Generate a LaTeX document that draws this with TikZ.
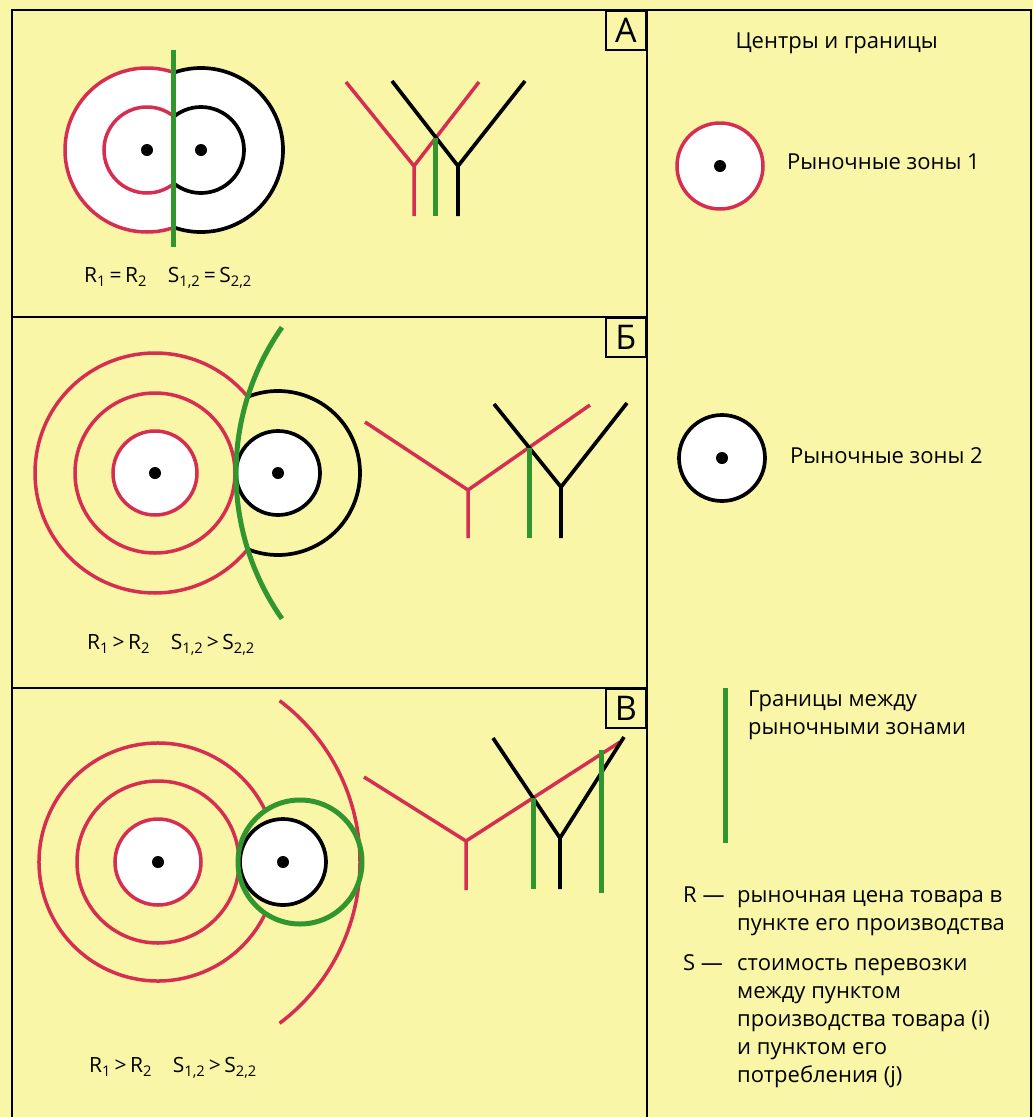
\documentclass[tikz,border=0pt]{standalone}
\usepackage{fontspec}
\setmainfont{Open Sans}
\usetikzlibrary{calc}
\definecolor{paper}{RGB}{250,246,168}
\definecolor{zonered}{RGB}{214,46,80}
\definecolor{zonegreen}{RGB}{50,150,46}

\begin{document}
\begin{tikzpicture}[x=1pt, y=-1pt,
  redline/.style={zonered, line width=3.5pt},
  blackline/.style={black, line width=3.7pt},
  greenline/.style={zonegreen, line width=5pt},
  frameline/.style={black, line width=2.2pt},
  centre/.style={circle, fill=black, inner sep=0pt, minimum size=12pt},
  formula/.style={font=\fontsize{21}{24}\selectfont, inner sep=0pt},
  legend/.style={font=\fontsize{22}{28}\selectfont, inner sep=0pt, align=left, anchor=base west},
  letterbox/.style={draw, line width=2.2pt, font=\fontsize{34}{34}\selectfont, minimum width=40pt, minimum height=39pt, inner sep=0pt, anchor=north east}]

  \useasboundingbox (0,0) rectangle (1033,1117);
  \fill[paper] (0,0) rectangle (1033,1117);

  % Frames
  \draw[frameline] (12,1117) -- (12,10) -- (647,10) -- (647,1117);
  \draw[frameline] (12,317) -- (647,317);
  \draw[frameline] (12,688) -- (647,688);
  \draw[frameline] (647,10) -- (1031,10) -- (1031,1117);
  \node[letterbox] (boxA) at (647,10) {А};
  \node[letterbox] (boxB) at (647,317) {Б};
  \node[letterbox] (boxV) at (647,688) {В};

  % Panel A: straight border
  \coordinate (a1) at (147,150);
  \coordinate (a2) at (201,150);
  \begin{scope}
    \clip (12,10) rectangle (174,317);
    \fill[white] (a1) circle[radius=82];
    \draw[redline] (a1) circle[radius=82] (a1) circle[radius=43];
  \end{scope}
  \begin{scope}
    \clip (174,10) rectangle (647,317);
    \fill[white] (a2) circle[radius=82];
    \draw[blackline] (a2) circle[radius=82] (a2) circle[radius=43];
  \end{scope}
  \draw[greenline] (173,50) -- (173,247);
  \node[centre] (a1c) at (a1) {};
  \node[centre] (a2c) at (a2) {};
  \node[formula] (formA) at (168,278) {R\textsubscript{1}\,=\,R\textsubscript{2}\quad S\textsubscript{1,2}\,=\,S\textsubscript{2,2}};

  \coordinate (aRl) at (346,82);  \coordinate (aRj) at (414,166);
  \coordinate (aRr) at (479,82);  \coordinate (aRs) at (414,216);
  \coordinate (aBl) at (392,81);  \coordinate (aBj) at (458,166);
  \coordinate (aBr) at (525,81);  \coordinate (aBs) at (458,216);
  \draw[redline] (aRl) -- (aRj) -- (aRr) (aRj) -- (aRs);
  \draw[blackline] (aBl) -- (aBj) -- (aBr) (aBj) -- (aBs);
  \coordinate (aX) at (intersection of aRj--aRr and aBl--aBj);
  \draw[greenline] (aX) -- (aX |- aBs);

  % Panel B: border bends towards 2
  \coordinate (b1) at (155,473);
  \coordinate (b2) at (278,473);
  \coordinate (bg) at (490,473);
  \fill[white] (b1) circle[radius=42] (b2) circle[radius=42];
  \draw[redline] (b1) circle[radius=42] (b1) circle[radius=80];
  \draw[redline] (b1) ++(39.4:120) arc[start angle=39.4, end angle=320.6, radius=120];
  \draw[blackline] (b2) circle[radius=42];
  \draw[blackline] (b2) ++(-111.7:82) arc[start angle=-111.7, end angle=111.7, radius=82];
  \draw[greenline] (bg) ++(145:254) arc[start angle=145, end angle=215, radius=254];
  \node[centre] (b1c) at (b1) {};
  \node[centre] (b2c) at (b2) {};
  \node[formula] (formB) at (171,645) {R\textsubscript{1}\,>\,R\textsubscript{2}\quad S\textsubscript{1,2}\,>\,S\textsubscript{2,2}};

  \coordinate (bRl) at (365,422);  \coordinate (bRj) at (468,490);
  \coordinate (bRr) at (590,405);  \coordinate (bRs) at (468,538);
  \coordinate (bBl) at (494,404);  \coordinate (bBj) at (561,487);
  \coordinate (bBr) at (627,403);  \coordinate (bBs) at (561,538);
  \draw[redline] (bRl) -- (bRj) -- (bRr) (bRj) -- (bRs);
  \draw[blackline] (bBl) -- (bBj) -- (bBr) (bBj) -- (bBs);
  \coordinate (bX) at (intersection of bRj--bRr and bBl--bBj);
  \draw[greenline] (bX) -- (bX |- bBs);

  % Panel V: zone 2 enclosed
  \coordinate (c1) at (158,862);
  \coordinate (c2) at (283,862);
  \coordinate (cg) at (300,862);
  \fill[white] (c1) circle[radius=43] (c2) circle[radius=43];
  \draw[redline] (c1) circle[radius=43] (c1) circle[radius=81];
  \draw[redline] (c1) ++(25.6:119) arc[start angle=25.6, end angle=334.4, radius=119];
  \draw[redline] (c1) ++(-53:202) arc[start angle=-53, end angle=53, radius=202];
  \draw[blackline] (c2) circle[radius=43];
  \draw[greenline] (cg) circle[radius=62];
  \node[centre] (c1c) at (c1) {};
  \node[centre] (c2c) at (c2) {};
  \node[formula] (formV) at (173,1068) {R\textsubscript{1}\,>\,R\textsubscript{2}\quad S\textsubscript{1,2}\,>\,S\textsubscript{2,2}};

  \coordinate (cRl) at (364,777);  \coordinate (cRj) at (466,841);
  \coordinate (cRr) at (620,742);  \coordinate (cRs) at (466,890);
  \coordinate (cBl) at (493,738);  \coordinate (cBj) at (560,838);
  \coordinate (cBr) at (624,737);  \coordinate (cBs) at (560,889);
  \draw[redline] (cRl) -- (cRj) -- (cRr) (cRj) -- (cRs);
  \draw[blackline] (cBl) -- (cBj) -- (cBr) (cBj) -- (cBs);
  \coordinate (cX) at (intersection of cRj--cRr and cBl--cBj);
  \draw[greenline] (cX) -- (cX |- cBs);
  \draw[greenline] (601,750) -- (601,893);

  % Legend
  \node[legend, anchor=base east] (title) at (938,48) {Центры и границы};
  \coordinate (l1) at (720,166);
  \coordinate (l2) at (722,458);
  \draw[redline, fill=white] (l1) circle[radius=43];
  \draw[blackline, fill=white] (l2) circle[radius=43];
  \node[centre] (l1c) at (l1) {};
  \node[centre] (l2c) at (l2) {};
  \node[legend] (zone1) at (787,169) {Рыночные зоны 1};
  \node[legend] (zone2) at (790,463) {Рыночные зоны 2};
  \draw[greenline] (725,688) -- (725,843);
  % multi-line nodes sit on their last baseline
  \node[legend] (border) at (748,734) {Границы между\\рыночными зонами};
  \node[legend] (rkey) at (683,902) {R —};
  \node[legend] (rtext) at (737,930) {рыночная цена товара в\\пункте его производства};
  \node[legend] (skey) at (683,970) {S —};
  \node[legend] (stext) at (737,1082) {стоимость перевозки\\между пунктом\\производства товара (i)\\и пунктом его\\потребления (j)};
\end{tikzpicture}
\end{document}
